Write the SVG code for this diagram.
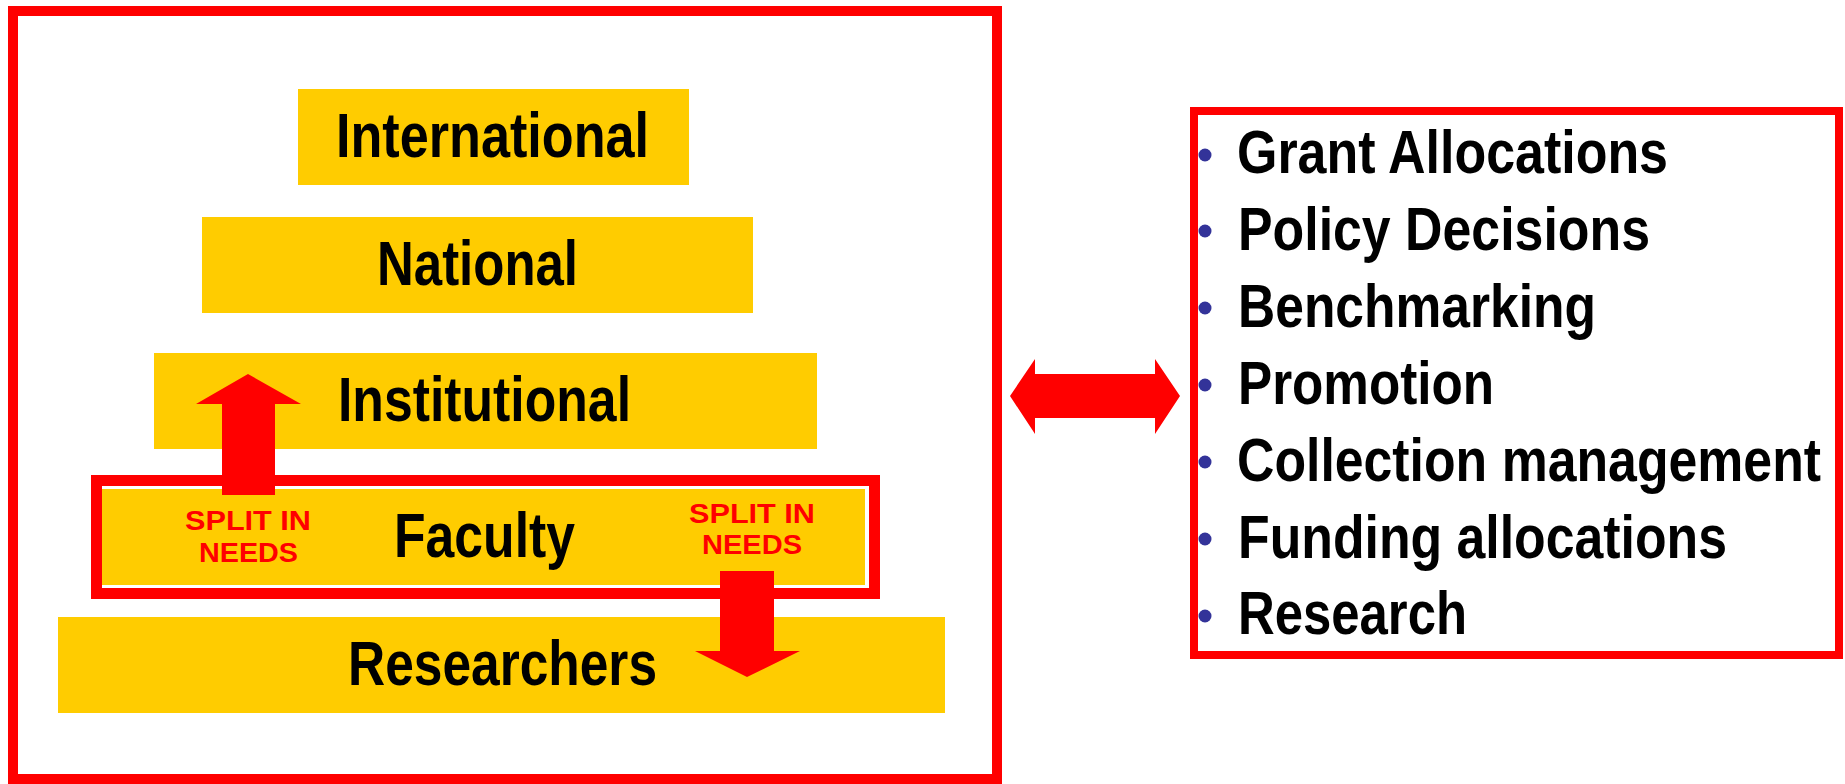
<svg xmlns="http://www.w3.org/2000/svg" width="1845" height="784" viewBox="0 0 1845 784">
<style>
.lvl{fill:#FFCC00}
.big{font-family:"Liberation Sans",Arial,sans-serif;font-weight:bold;font-size:63px;fill:#000}
.split{font-family:"Liberation Sans",Arial,sans-serif;font-weight:bold;font-size:27px;fill:#FF0000}
.item{font-family:"Liberation Sans",Arial,sans-serif;font-weight:bold;font-size:62px;fill:#000}
.dot{fill:#333399}
.arrow{fill:#FF0000}
</style>
<rect width="1845" height="784" fill="#fff"/>
<g id="outer-frame">
<rect x="13" y="11" width="984" height="768" fill="none" stroke="#FF0000" stroke-width="10"/>
</g>
<g id="international">
<rect class="lvl" x="298" y="89" width="391" height="96"/>
<text class="big" x="336" y="157" textLength="313" lengthAdjust="spacingAndGlyphs">International</text>
</g>
<g id="national">
<rect class="lvl" x="202" y="217" width="551" height="96"/>
<text class="big" x="377" y="285" textLength="201" lengthAdjust="spacingAndGlyphs">National</text>
</g>
<g id="institutional">
<rect class="lvl" x="154" y="353" width="663" height="96"/>
<text class="big" x="338" y="421" textLength="293" lengthAdjust="spacingAndGlyphs">Institutional</text>
</g>
<g id="researchers">
<rect class="lvl" x="58" y="617" width="887" height="96"/>
<text class="big" x="348" y="685" textLength="309" lengthAdjust="spacingAndGlyphs">Researchers</text>
</g>
<g id="faculty">
<rect x="96.5" y="480.5" width="778" height="113" fill="#fff" stroke="#FF0000" stroke-width="11"/>
<rect class="lvl" x="102" y="489" width="763" height="96"/>
<text class="big" x="394" y="557" textLength="181" lengthAdjust="spacingAndGlyphs">Faculty</text>
</g>
<g id="connectors">
<polygon class="arrow" points="222,495 275,495 275,404 301,404 248,374 196,404 222,404"/>
<polygon class="arrow" points="720,571 774,571 774,651 800,651 747,677 695,651 720,651"/>
<polygon class="arrow" points="1010,396 1035,359 1035,374 1155,374 1155,359 1180,396 1155,434 1155,418 1035,418 1035,434"/>
</g>
<g id="split-left">
<text class="split" x="185" y="530" textLength="126" lengthAdjust="spacingAndGlyphs">SPLIT IN</text>
<text class="split" x="199" y="562" textLength="99" lengthAdjust="spacingAndGlyphs">NEEDS</text>
</g>
<g id="split-right">
<text class="split" x="689" y="523" textLength="126" lengthAdjust="spacingAndGlyphs">SPLIT IN</text>
<text class="split" x="702" y="554" textLength="100" lengthAdjust="spacingAndGlyphs">NEEDS</text>
</g>
<g id="uses-list">
<rect x="1194" y="111" width="645" height="544" fill="none" stroke="#FF0000" stroke-width="8"/>
<circle class="dot" cx="1205" cy="155" r="6.5"/>
<text class="item" x="1237" y="173" textLength="431" lengthAdjust="spacingAndGlyphs">Grant Allocations</text>
<circle class="dot" cx="1205" cy="231" r="6.5"/>
<text class="item" x="1238" y="250" textLength="412" lengthAdjust="spacingAndGlyphs">Policy Decisions</text>
<circle class="dot" cx="1205" cy="308" r="6.5"/>
<text class="item" x="1238" y="327" textLength="358" lengthAdjust="spacingAndGlyphs">Benchmarking</text>
<circle class="dot" cx="1205" cy="385" r="6.5"/>
<text class="item" x="1238" y="404" textLength="256" lengthAdjust="spacingAndGlyphs">Promotion</text>
<circle class="dot" cx="1205" cy="462" r="6.5"/>
<g transform="translate(1237,481) scale(1,1.2)">
<text class="item" x="0" y="0" style="font-size:51.5px" textLength="584" lengthAdjust="spacingAndGlyphs">Collection management</text>
</g>
<circle class="dot" cx="1205" cy="539" r="6.5"/>
<text class="item" x="1238" y="558" textLength="489" lengthAdjust="spacingAndGlyphs">Funding allocations</text>
<circle class="dot" cx="1205" cy="616" r="6.5"/>
<text class="item" x="1238" y="634" textLength="229" lengthAdjust="spacingAndGlyphs">Research</text>
</g>
</svg>
